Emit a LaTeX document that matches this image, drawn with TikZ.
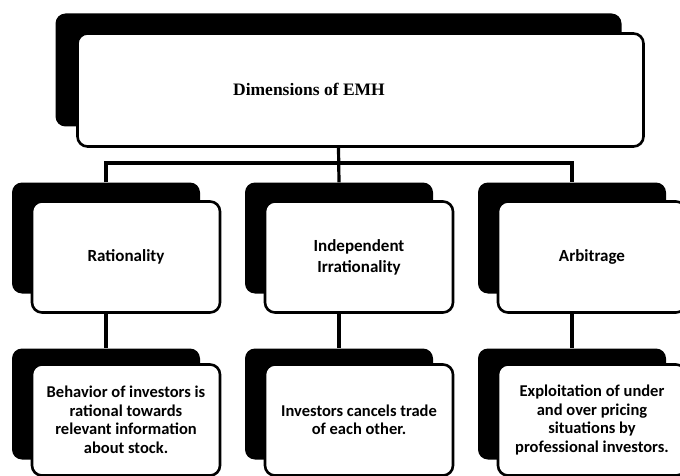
\documentclass[tikz,border=0pt]{standalone}
\usepackage{fontspec}
\setmainfont{Liberation Serif}
\newfontfamily\calibri{Carlito}
\usepackage{tikz}

\begin{document}
\begin{tikzpicture}[x=1pt,y=-1pt,
    back node/.style={rectangle,rounded corners=10pt,fill=black,minimum width=188pt,minimum height=111pt,inner sep=0pt},
    front node/.style={rectangle,rounded corners=10pt,draw=black,line width=2.6pt,fill=white,minimum width=188pt,minimum height=111pt,inner sep=0pt,align=center},
    dim node/.style={font=\calibri\bfseries\fontsize{17}{21}\selectfont},
    info node/.style={font=\calibri\bfseries\fontsize{16.5}{18.5}\selectfont},
    link/.style={draw=black,line width=3.2pt}]
    \useasboundingbox (0,0) rectangle (680,476);
    \coordinate (bus) at (0,163);

    % top box
    \node[back node,minimum width=566pt,minimum height=113pt] (emhback) at (338.5,70) {};
    \node[front node,minimum width=566pt,minimum height=113pt] (emh) at (360.5,90) {};
    \node[font=\bfseries\fontsize{17.5}{21}\selectfont] (emhtitle) at (309,89) {Dimensions of EMH};

    % second row
    \node[back node] (ratback) at (106,238) {};
    \node[front node,dim node] (rat) at (126,257) {Rationality};
    \node[back node] (indback) at (339,238) {};
    \node[front node,dim node] (ind) at (359,257) {Independent\\Irrationality};
    \node[back node] (arbback) at (572,238) {};
    \node[front node,dim node] (arb) at (592,257) {Arbitrage};

    % third row
    \node[back node] (ratinfoback) at (106,404) {};
    \node[front node,info node] (ratinfo) at (126,420) {Behavior of investors is\\rational towards\\relevant information\\about stock.};
    \node[back node] (indinfoback) at (339,404) {};
    \node[front node,info node] (indinfo) at (359,420) {Investors cancels trade\\of each other.};
    \node[back node] (arbinfoback) at (572,404) {};
    \node[front node,info node] (arbinfo) at (592,420) {Exploitation of under\\and over pricing\\situations by\\professional investors.};

    % connectors
    \draw[link] (emhback |- emh.south) -- (indback.north);
    \draw[link] (ratback.north) -- (ratback |- bus) -- (arbback |- bus) -- (arbback.north);
    \draw[link] (ratback |- rat.south) -- (ratinfoback.north);
    \draw[link] (indback |- ind.south) -- (indinfoback.north);
    \draw[link] (arbback |- arb.south) -- (arbinfoback.north);
\end{tikzpicture}
\end{document}
